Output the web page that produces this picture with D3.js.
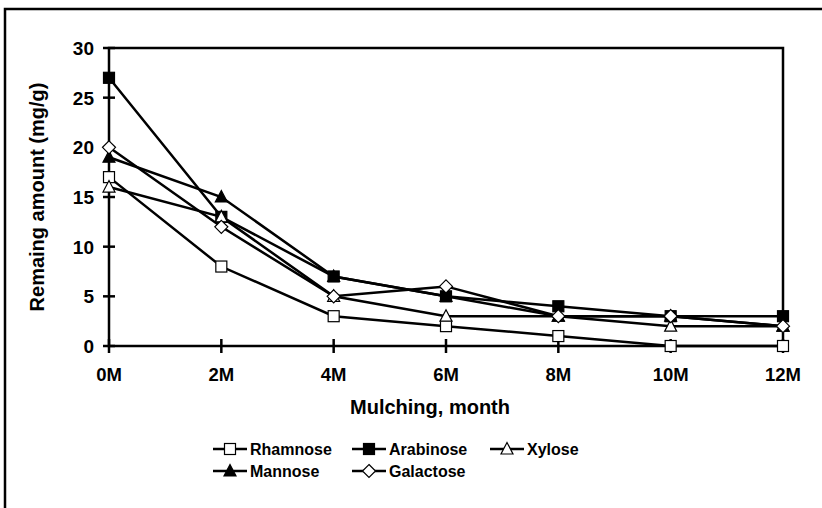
<!DOCTYPE html>
<html>
<head>
<meta charset="utf-8">
<script src="https://cdn.jsdelivr.net/npm/d3@7"></script>
<style>
  html, body { margin: 0; background: #fff; overflow: hidden; }
  svg { display: block; }
  text { font-family: "Liberation Sans", Arial, sans-serif; font-weight: bold; fill: #000; }
</style>
</head>
<body>
<svg width="822" height="508"></svg>
<script>
const months = ["0M", "2M", "4M", "6M", "8M", "10M", "12M"];
const yTicks = [0, 5, 10, 15, 20, 25, 30];

const rhamnose = [17, 8, 3, 2, 1, 0, 0];
const arabinose = [27, 13, 7, 5, 4, 3, 3];
const xylose = [16, 13, 5, 3, 3, 2, 2];
const mannose = [19, 15, 7, 5, 3, 3, 2];
const galactose = [20, 12, 5, 6, 3, 3, 2];

const series = [
    { name: "Rhamnose", values: rhamnose, shape: "square", fill: "#fff" },
    { name: "Arabinose", values: arabinose, shape: "square", fill: "#000" },
    { name: "Xylose", values: xylose, shape: "triangle", fill: "#fff" },
    { name: "Mannose", values: mannose, shape: "triangle", fill: "#000" },
    { name: "Galactose", values: galactose, shape: "diamond", fill: "#fff" }
];

var svg = d3.select("svg"),
    plotLeft = 109, plotRight = 783, plotTop = 48, plotBottom = 346;

// outer frame: only its left and top edges are in the picture
svg.append("path")
    .attr("d", "M5,520V9H830")
    .attr("fill", "none").attr("stroke", "#000").attr("stroke-width", 2.5);

var x = d3.scalePoint().domain(months).range([plotLeft, plotRight]);
var y = d3.scaleLinear().domain([0, 30]).range([plotBottom, plotTop]);

// plot box
svg.append("rect")
    .attr("x", plotLeft).attr("y", plotTop)
    .attr("width", plotRight - plotLeft).attr("height", plotBottom - plotTop)
    .attr("fill", "none").attr("stroke", "#000").attr("stroke-width", 2.5);

// y axis ticks crossing the axis
var yAxis = svg.append("g");
yAxis.selectAll("line").data(yTicks).enter().append("line")
    .attr("x1", plotLeft - 6).attr("x2", plotLeft + 6)
    .attr("y1", d => y(d)).attr("y2", d => y(d))
    .attr("stroke", "#000").attr("stroke-width", 2.5);
yAxis.selectAll("text").data(yTicks).enter().append("text")
    .attr("x", plotLeft - 15).attr("y", d => y(d))
    .attr("dy", "0.36em").attr("text-anchor", "end")
    .style("font-size", "19px")
    .text(d => d);

var xAxis = svg.append("g");
xAxis.selectAll("line").data(months).enter().append("line")
    .attr("x1", d => x(d)).attr("x2", d => x(d))
    .attr("y1", plotBottom - 7).attr("y2", plotBottom + 7)
    .attr("stroke", "#000").attr("stroke-width", 2.5);
xAxis.selectAll("text").data(months).enter().append("text")
    .attr("x", d => x(d)).attr("y", 381)
    .attr("text-anchor", "middle")
    .style("font-size", "18.5px")
    .text(d => d);

svg.append("text")
    .attr("x", 430).attr("y", 414)
    .attr("text-anchor", "middle")
    .style("font-size", "20px")
    .text("Mulching, month");

svg.append("text")
    .attr("transform", "translate(44,197) rotate(-90)")
    .attr("text-anchor", "middle")
    .style("font-size", "20px")
    .text("Remaing amount (mg/g)");

function marker(g, shape, fill) {
    if (shape === "square") {
        g.append("rect").attr("x", -5.5).attr("y", -5.5).attr("width", 11).attr("height", 11)
            .attr("fill", fill).attr("stroke", "#000").attr("stroke-width", 1.2);
    } else if (shape === "triangle") {
        g.append("path").attr("d", "M0,-6.5L6,5L-6,5Z")
            .attr("fill", fill).attr("stroke", "#000").attr("stroke-width", 1.2);
    } else {
        g.append("path").attr("d", "M0,-6.5L6.5,0L0,6.5L-6.5,0Z")
            .attr("fill", fill).attr("stroke", "#000").attr("stroke-width", 1.2);
    }
}

var line = d3.line().x((d, i) => x(months[i])).y(d => y(d));

series.forEach(s => {
    svg.append("path")
        .attr("d", line(s.values))
        .attr("fill", "none").attr("stroke", "#000").attr("stroke-width", 2.5);
});
series.forEach(s => {
    s.values.forEach((v, i) => {
        var g = svg.append("g").attr("transform", `translate(${x(months[i])},${y(v)})`);
        marker(g, s.shape, s.fill);
    });
});

// legend
var legendPos = [[213, 449], [352, 449], [490, 449], [213, 471], [352, 471]];
series.forEach((s, i) => {
    var g = svg.append("g").attr("transform", `translate(${legendPos[i][0]},${legendPos[i][1]})`);
    g.append("line").attr("x1", 0).attr("x2", 34).attr("y1", 0).attr("y2", 0)
        .attr("stroke", "#000").attr("stroke-width", 2.5);
    var m = g.append("g").attr("transform", "translate(17,0)");
    marker(m, s.shape, s.fill);
    g.append("text").attr("x", 37).attr("y", 0).attr("dy", "0.36em")
        .style("font-size", "16px")
        .text(s.name);
});
</script>
</body>
</html>
